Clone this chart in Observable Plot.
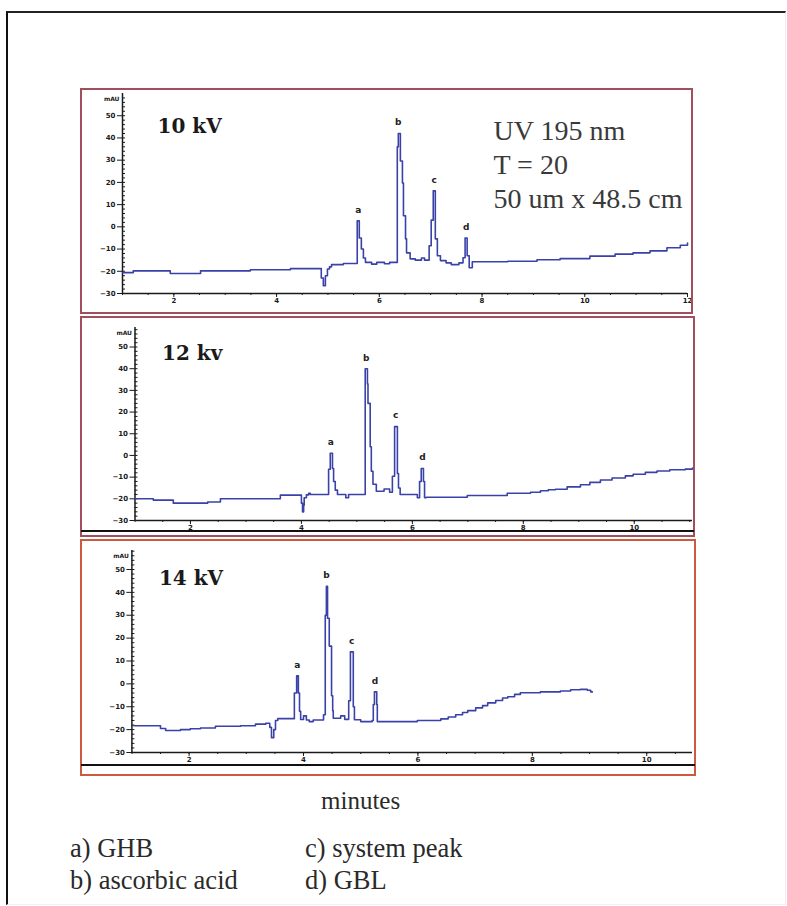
<!DOCTYPE html>
<html>
<head>
<meta charset="utf-8">
<script src="https://cdn.jsdelivr.net/npm/d3@7"></script>
<script src="https://cdn.jsdelivr.net/npm/@observablehq/plot@0.6"></script>
<style>
  html, body { margin: 0; padding: 0; background: #fff; }
  #page { position: relative; width: 787px; height: 906px; overflow: hidden; background: #fff; }
  .frame { position: absolute; left: 6px; top: 11px; width: 777px; height: 891px;
           border-left: 2px solid #111; border-top: 2px solid #222;
           border-right: 1px solid #eeeeee; border-bottom: 1px solid #f2f2f2; }
  .panel { position: absolute; }
  .box { position: absolute; box-sizing: border-box; pointer-events: none; }
  .rule { position: absolute; height: 2px; background: #111; }
  .serif { position: absolute; font-family: "Liberation Serif", "Times New Roman", serif; color: #2a2a2a; font-size: 25px; white-space: nowrap; line-height: 1; }
  .legend { font-size: 26.5px; }
</style>
</head>
<body>
<div id="page">
  <div class="frame"></div>
  <div id="p1" class="panel" style="left:80px; top:88px;"></div>
  <div id="p2" class="panel" style="left:80px; top:316px;"></div>
  <div id="p3" class="panel" style="left:80px; top:539px;"></div>
  <div class="box" style="left:80px; top:88px; width:613px; height:226px; border:2px solid #a04f5c;"></div>
  <div class="box" style="left:80px; top:316px; width:615px; height:221px; border:2px solid #a04f5c;"></div>
  <div class="rule" style="left:81px; top:530px; width:613px;"></div>
  <div class="box" style="left:80px; top:539px; width:616px; height:237px; border:2px solid #cc5a3e;"></div>
  <div class="rule" style="left:81px; top:764px; width:614px;"></div>
  <div class="serif" style="left:321px; top:788px;">minutes</div>
  <div class="serif legend" style="left:70px; top:835px;">a) GHB</div>
  <div class="serif legend" style="left:70px; top:867px;">b) ascorbic acid</div>
  <div class="serif legend" style="left:305px; top:835px;">c) system peak</div>
  <div class="serif legend" style="left:305px; top:867px;">d) GBL</div>
</div>
<script>
// ---- data ----
const peakLabels = ["a", "b", "c", "d"];
const annotation = ["UV 195 nm", "T = 20", "50 um x 48.5 cm"];
const yMajorTicks = [-30, -20, -10, 0, 10, 20, 30, 40, 50];
const xTicks10 = [2, 4, 6, 8, 10, 12];
const xTicks12 = [2, 4, 6, 8, 10];
const xTicks14 = [2, 4, 6, 8, 10];

// 10 kV trace (minutes, mAU)
const t10 = [1.00, 1.21, 1.93, 2.52, 3.49, 4.27, 4.87, 4.91, 4.95, 4.99, 5.03, 5.07, 5.30, 5.57, 5.61, 5.65, 5.69, 5.73, 5.85, 5.95, 6.10, 6.20, 6.35, 6.37, 6.41, 6.45, 6.47, 6.51, 6.53, 6.60, 6.70, 6.82, 6.88, 6.97, 7.01, 7.05, 7.09, 7.13, 7.19, 7.30, 7.40, 7.55, 7.63, 7.67, 7.71, 7.75, 7.81, 8.50, 9.07, 9.52, 10.10, 10.59, 10.94, 11.27, 11.60, 11.86, 12.00];
const v10 = [-20.6, -19.8, -21.0, -19.8, -19.3, -18.8, -23.0, -26.5, -22.0, -19.0, -18.0, -17.0, -16.5, 2.7, -5.0, -10.0, -14.0, -16.0, -16.8, -16.0, -16.6, -16.0, 36.0, 42.0, 29.6, 19.7, 5.0, -5.4, -11.7, -14.4, -15.0, -14.0, -15.0, -8.5, 3.0, 16.2, -5.4, -13.0, -15.2, -16.2, -17.0, -16.2, -13.9, -5.0, -13.0, -18.4, -15.7, -15.5, -14.8, -14.3, -13.2, -12.3, -11.7, -10.8, -9.4, -8.3, -7.3];
const peakT10 = [5.59, 6.37, 7.07, 7.69];
const peakV10 = [2.7, 42.0, 16.2, -5.0];

// 12 kV trace
const t12 = [1.00, 1.33, 1.69, 2.31, 2.54, 3.62, 4.00, 4.02, 4.04, 4.05, 4.09, 4.13, 4.16, 4.49, 4.52, 4.56, 4.58, 4.61, 4.65, 4.80, 4.85, 5.15, 5.19, 5.20, 5.24, 5.26, 5.29, 5.35, 5.49, 5.59, 5.64, 5.68, 5.73, 5.75, 5.78, 6.09, 6.13, 6.16, 6.20, 6.22, 6.25, 6.99, 7.71, 8.13, 8.31, 8.45, 8.58, 8.79, 9.03, 9.20, 9.39, 9.60, 9.84, 9.98, 10.20, 10.41, 10.64, 10.92, 11.05];
const v12 = [-20.0, -20.6, -22.0, -21.5, -20.0, -18.3, -22.0, -26.0, -23.0, -19.5, -18.2, -17.5, -18.0, -6.4, 1.0, -6.0, -12.0, -16.0, -18.0, -19.5, -18.0, 40.0, 33.0, 24.0, 4.0, -7.3, -13.3, -16.5, -15.5, -17.0, -9.6, 13.3, -8.3, -15.0, -18.0, -19.5, -12.0, -6.0, -12.0, -19.5, -19.3, -18.5, -17.4, -17.0, -16.3, -15.8, -15.6, -14.5, -13.5, -12.4, -11.3, -10.4, -9.4, -8.7, -7.8, -7.2, -6.6, -6.3, -5.8];
const peakT12 = [4.53, 5.17, 5.70, 6.18];
const peakV12 = [1.0, 40.0, 13.3, -6.0];

// 14 kV trace
const t14 = [1.03, 1.50, 1.59, 1.85, 2.02, 2.20, 2.46, 2.90, 3.16, 3.34, 3.41, 3.44, 3.48, 3.51, 3.55, 3.84, 3.88, 3.91, 3.93, 3.95, 4.00, 4.05, 4.10, 4.17, 4.35, 4.38, 4.40, 4.42, 4.45, 4.49, 4.51, 4.52, 4.65, 4.72, 4.79, 4.82, 4.87, 4.89, 5.00, 5.20, 5.22, 5.24, 5.28, 5.29, 5.99, 6.40, 6.53, 6.66, 6.78, 6.87, 7.01, 7.13, 7.22, 7.36, 7.48, 7.57, 7.69, 7.79, 8.14, 8.49, 8.67, 8.84, 8.96, 9.02, 9.05];
const v14 = [-18.3, -19.5, -20.4, -20.0, -19.6, -19.3, -18.5, -18.3, -17.6, -17.2, -19.0, -23.5, -20.0, -16.0, -15.2, -4.0, 3.5, -4.0, -12.0, -15.6, -14.0, -15.8, -16.5, -15.8, -13.5, 30.0, 42.6, 28.7, 16.5, -5.2, -11.7, -15.0, -14.0, -15.5, -7.4, 14.0, -10.0, -15.7, -16.5, -16.0, -9.0, -3.5, -9.0, -16.5, -16.0, -15.3, -14.5, -13.5, -12.5, -11.7, -10.5, -9.5, -8.3, -7.3, -6.2, -5.6, -4.6, -3.9, -3.5, -3.1, -2.6, -2.4, -2.8, -3.5, -3.5];
const peakT14 = [3.89, 4.40, 4.84, 5.25];
const peakV14 = [3.5, 42.6, 14.0, -3.5];

// ---- drawing ----
function panel(o) {
  const data = o.t.map((d, i) => ({t: d, v: o.v[i]}));
  const peaks = peakLabels.map((l, i) => ({l, t: o.peakT[i], v: o.peakV[i]}));
  const axisFont = {fontSize: 7, fontWeight: "bold", fontFamily: "DejaVu Sans, sans-serif"};
  const marks = [
    Plot.axisY({ticks: yMajorTicks, tickSize: 5, tickPadding: 2, label: null, ...axisFont}),
    Plot.axisY({ticks: d3.range(-30, o.yDomain[1], 2), tickSize: -3, text: null, label: null}),
    Plot.axisX({ticks: o.xTicks, tickSize: 4, tickPadding: 1, label: null, ...axisFont}),
    Plot.axisX({ticks: d3.range(1, o.xDomain[1] + 0.01, 0.5), tickSize: 2, text: null, label: null}),
    Plot.ruleX([o.xDomain[0]], {stroke: "#1a1a1a", strokeWidth: 1.5}),
    Plot.ruleY([o.yDomain[0]], {stroke: "#1a1a1a", strokeWidth: 1.5}),
    Plot.text(["mAU"], {frameAnchor: "top-left", dx: -3, dy: 3, textAnchor: "end", ...axisFont, fontSize: 6}),
    Plot.line(data, {x: "t", y: "v", curve: "step-after", stroke: "#3a42a8", strokeWidth: 1.6}),
    Plot.text(peaks, {x: "t", y: "v", text: "l", dy: -11, fontSize: 9, fontWeight: "bold", fontFamily: "DejaVu Sans, sans-serif", fill: "#222"}),
    Plot.text([o.title], {frameAnchor: "top-left", dx: o.titleDx, dy: o.titleDy, textAnchor: "start", lineAnchor: "middle", fontFamily: "DejaVu Serif, serif", fontWeight: "bold", fontSize: 20, fill: "#1a1a1a"})
  ];
  if (o.annotation) {
    marks.push(Plot.text([o.annotation.join("\n")], {frameAnchor: "top-left", dx: 371, dy: 23, textAnchor: "start", lineAnchor: "top", lineHeight: 1.2, fontFamily: "Liberation Serif, serif", fontSize: 28, fill: "#3a3a3a"}));
  }
  return Plot.plot({
    width: o.width, height: o.height,
    marginTop: o.mt, marginBottom: o.mb, marginLeft: o.ml, marginRight: o.mr,
    x: {domain: o.xDomain},
    y: {domain: o.yDomain},
    style: {background: "transparent", overflow: "visible", color: "#1a1a1a"},
    marks
  });
}

document.getElementById("p1").appendChild(panel({
  t: t10, v: v10, peakT: peakT10, peakV: peakV10, xTicks: xTicks10,
  width: 612, height: 225, mt: 5, mb: 20, ml: 42, mr: 5,
  xDomain: [1, 12], yDomain: [-30, 60],
  title: "10 kV", titleDx: 35, titleDy: 33, annotation
}));
document.getElementById("p2").appendChild(panel({
  t: t12, v: v12, peakT: peakT12, peakV: peakV12, xTicks: xTicks12,
  width: 614, height: 220, mt: 11, mb: 16, ml: 54.5, mr: 2,
  xDomain: [1, 11.05], yDomain: [-30, 59],
  title: "12 kv", titleDx: 27, titleDy: 26
}));
document.getElementById("p3").appendChild(panel({
  t: t14, v: v14, peakT: peakT14, peakV: peakV14, xTicks: xTicks14,
  width: 615, height: 236, mt: 11, mb: 23, ml: 51.4, mr: 3,
  xDomain: [1, 10.8], yDomain: [-30, 58.3],
  title: "14 kV", titleDx: 27, titleDy: 28
}));
</script>
</body>
</html>
